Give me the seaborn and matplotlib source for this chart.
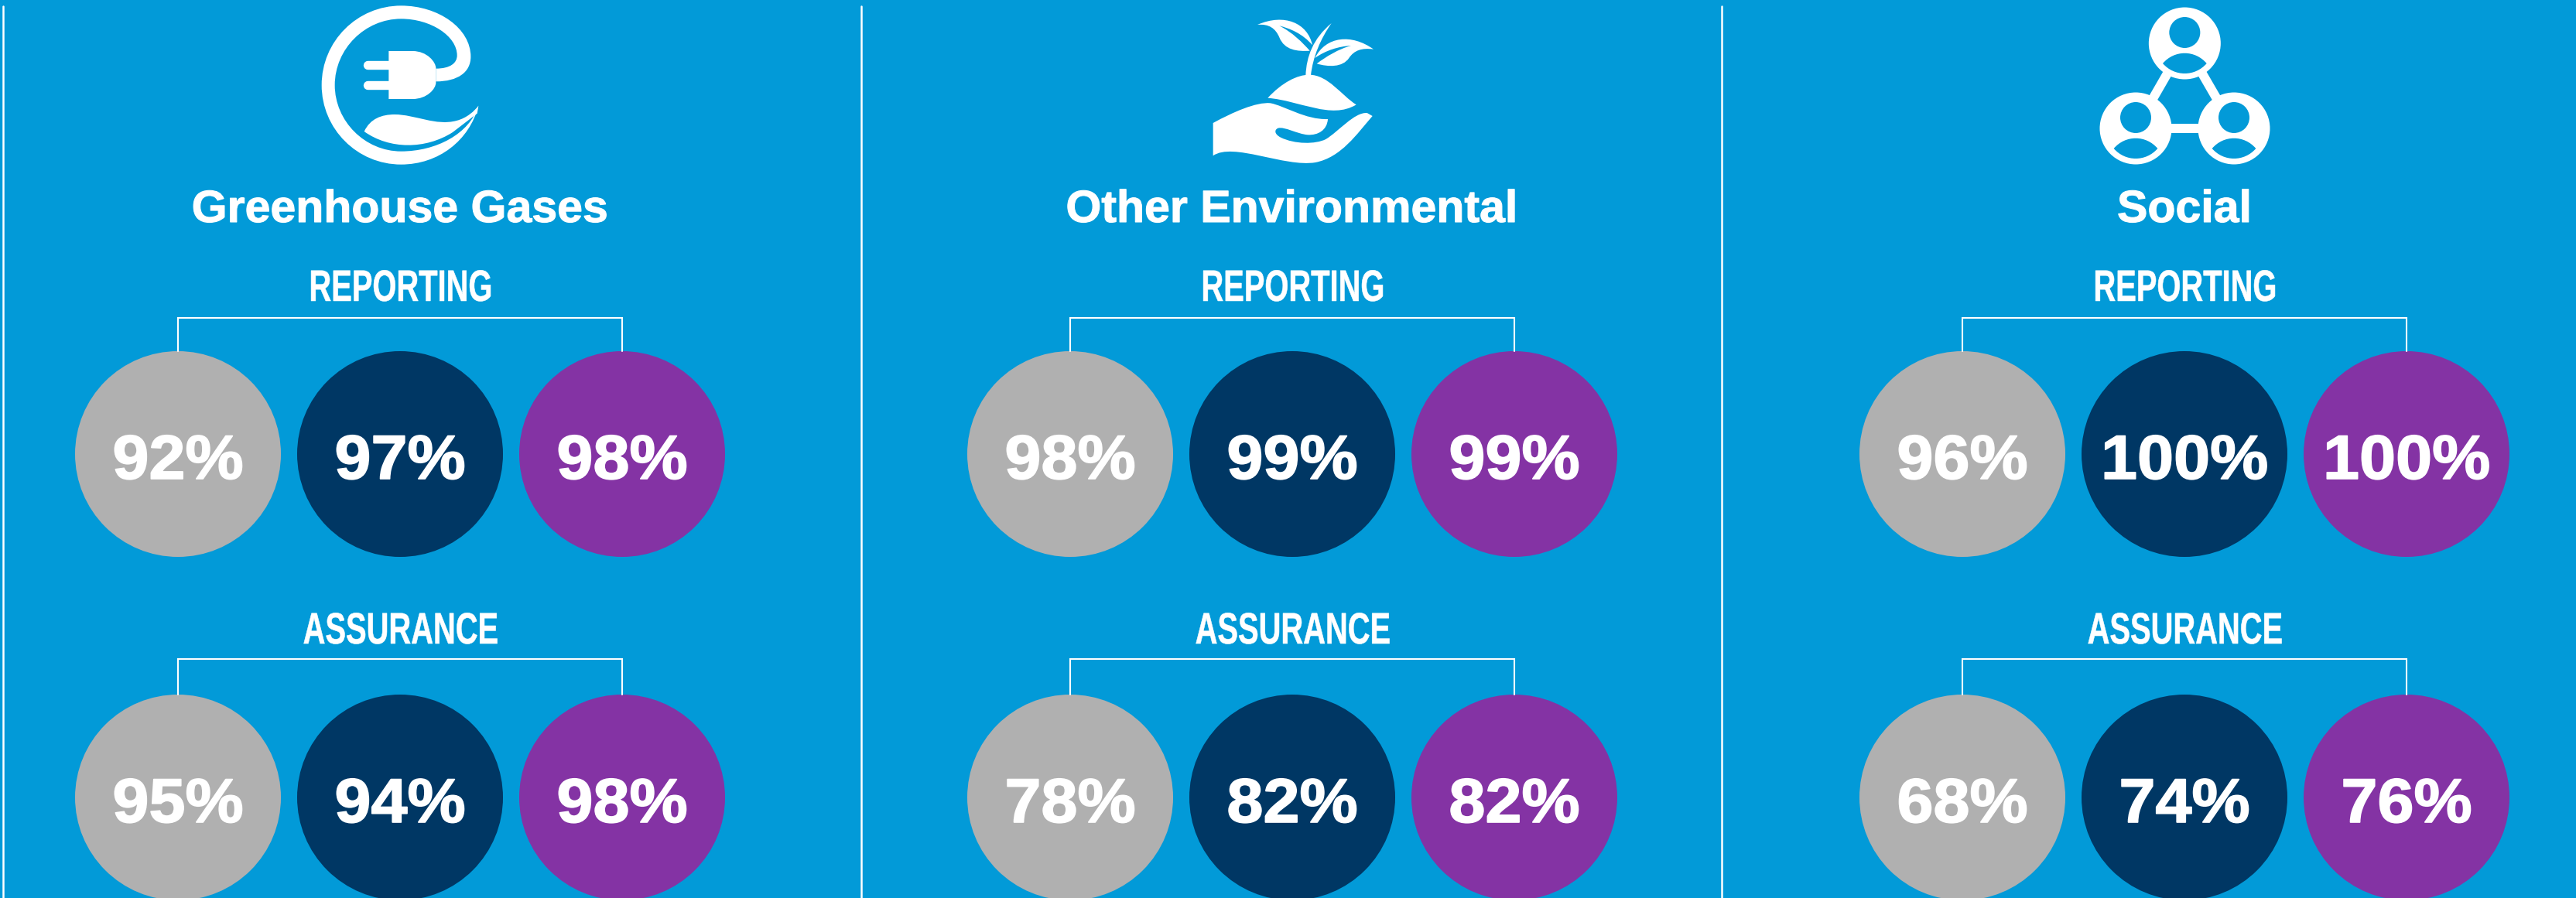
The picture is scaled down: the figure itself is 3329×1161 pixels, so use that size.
import numpy as np
import pandas as pd
import matplotlib
matplotlib.use("Agg")
import matplotlib.pyplot as plt
import matplotlib.patheffects as pe
import seaborn as sns
from matplotlib.patches import PathPatch, Circle
from matplotlib.path import Path
from matplotlib.transforms import Affine2D

# -------------------------------
# Data
# -------------------------------
panels = ["Greenhouse Gases", "Other Environmental", "Social"]
rows = ["REPORTING", "ASSURANCE"]
groups = ["Group A", "Group B", "Group C"]

reporting_ghg = [92, 97, 98]
reporting_env = [98, 99, 99]
reporting_soc = [96, 100, 100]
assurance_ghg = [95, 94, 98]
assurance_env = [78, 82, 82]
assurance_soc = [68, 74, 76]

BG = "#029AD8"
group_colors = ["#B0B0B0", "#003764", "#8433A4"]

# layout, in pixels of the picture
W, H = 3329, 1161
panel_x = [517, 1670, 2823]
dot_dx = [-287, 0, 287]
row_y = [587, 1031]
dot_d = 266
sep_x = [4, 1113, 2225]

table = {
    "REPORTING": [reporting_ghg, reporting_env, reporting_soc],
    "ASSURANCE": [assurance_ghg, assurance_env, assurance_soc],
}
records = []
for r, row in enumerate(rows):
    for p, panel in enumerate(panels):
        for g, group in enumerate(groups):
            records.append({
                "panel": panel, "row": row, "group": group,
                "value": table[row][p][g],
                "x": panel_x[p] + dot_dx[g],
                "y": row_y[r],
            })
df = pd.DataFrame(records)

sns.set_theme(style="white")
plt.rcParams["font.family"] = ["Liberation Sans", "DejaVu Sans"]

fig = plt.figure(figsize=(W / 100, H / 100), dpi=100, facecolor=BG)
ax = fig.add_axes([0, 0, 1, 1])
ax.set_facecolor(BG)

sns.scatterplot(
    data=df, x="x", y="y", hue="group", palette=group_colors,
    s=(dot_d * 0.72) ** 2, linewidth=0, legend=False, ax=ax, clip_on=True,
)
ax.set_xlim(0, W)
ax.set_ylim(H, 0)
ax.axis("off")


class Squeeze(pe.AbstractPathEffect):
    # narrows or widens a text about its centre, the fonts here have no condensed cut
    def __init__(self, x, fx, stroke=0):
        super().__init__()
        self.cx = ax.transData.transform((x, 0))[0]
        self.fx = fx
        self.stroke = stroke

    def draw_path(self, renderer, gc, tpath, affine, rgbFace=None):
        t = affine + Affine2D().translate(-self.cx, 0).scale(self.fx, 1).translate(self.cx, 0)
        gc0 = renderer.new_gc()
        gc0.copy_properties(gc)
        gc0.set_linewidth(self.stroke)
        gc0.set_foreground("white")
        renderer.draw_path(gc0, tpath, t, rgbFace)
        gc0.restore()


for _, d in df.iterrows():
    ax.text(d["x"], d["y"] + 32, f"{d['value']}%", color="white", fontsize=58,
            fontweight="bold", ha="center", va="baseline",
            path_effects=[Squeeze(d["x"], 1.05, stroke=1.2)])

# separators
for x in sep_x:
    ax.plot([x, x], [8, H], color="white", lw=1.8)

# brackets and row labels
label_y = [389, 832]
top_y = [411, 852]
for r, row in enumerate(rows):
    for px in panel_x:
        ax.plot([px - 287, px - 287, px + 287, px + 287],
                [row_y[r] - 133, top_y[r], top_y[r], row_y[r] - 133],
                color="white", lw=1.5, solid_joinstyle="miter")
        ax.text(px + 1, label_y[r], row, color="white", fontsize=41, fontweight="bold",
                ha="center", va="baseline",
                path_effects=[Squeeze(px + 1, 0.70, stroke=0.4)])

# panel headings
for px, panel in zip(panel_x, panels):
    ax.text(px, 287, panel, color="white", fontsize=42, fontweight="bold",
            ha="center", va="baseline",
            path_effects=[Squeeze(px, 1.012, stroke=0.8)])


def shape(points, color="white", **kw):
    # M/L/C path given as a small list of commands
    verts, codes = [], []
    for cmd in points:
        if cmd[0] == "M":
            verts.append(cmd[1]); codes.append(Path.MOVETO)
        elif cmd[0] == "L":
            verts.append(cmd[1]); codes.append(Path.LINETO)
        elif cmd[0] == "C":
            verts.extend(cmd[1:]); codes.extend([Path.CURVE4] * 3)
        elif cmd[0] == "Z":
            verts.append((0, 0)); codes.append(Path.CLOSEPOLY)
    ax.add_patch(PathPatch(Path(verts, codes), facecolor=color, edgecolor="none", **kw))


def plug_icon():
    # zoom offsets: x = 350 + u/3, y = v/3
    P = lambda u, v: (350 + u / 3, v / 3)
    # big ring with the cord running into the plug
    shape([
        ("M", P(805, 410)),
        ("C", P(770, 545), P(650, 638), P(505, 638)),
        ("C", P(335, 638), P(197, 500), P(197, 330)),
        ("C", P(197, 160), P(335, 22), P(505, 22)),
        ("C", P(650, 22), P(775, 110), P(775, 220)),
        ("C", P(775, 280), P(725, 316), P(640, 316)),
        ("L", P(640, 266)),
        ("C", P(695, 266), P(722, 245), P(722, 215)),
        ("C", P(722, 140), P(620, 73), P(505, 73)),
        ("C", P(365, 73), P(248, 190), P(248, 330)),
        ("C", P(248, 470), P(365, 587), P(505, 587)),
        ("C", P(640, 587), P(770, 520), P(805, 410)),
        ("Z",),
    ])
    # plug body
    shape([
        ("M", P(457, 198)),
        ("L", P(550, 198)),
        ("C", P(605, 198), P(640, 240), P(640, 265)),
        ("L", P(640, 320)),
        ("C", P(640, 345), P(605, 384), P(550, 384)),
        ("L", P(457, 384)),
        ("Z",),
    ])
    for v in [252, 330]:
        ax.plot(*zip(P(375, v), P(460, v)), color="white", lw=8.2,
                solid_capstyle="round")
    # leaf
    shape([
        ("M", P(362, 510)),
        ("C", P(385, 460), P(430, 444), P(480, 444)),
        ("C", P(560, 444), P(640, 490), P(720, 468)),
        ("C", P(760, 458), P(790, 430), P(805, 410)),
        ("L", P(800, 440)),
        ("L", P(705, 513)),
        ("C", P(600, 580), P(460, 580), P(362, 510)),
        ("Z",),
    ])


def hand_icon():
    P = lambda u, v: (1500 + u / 3, v / 3)
    # hand
    shape([
        ("M", P(203, 477)),
        ("C", P(280, 435), P(370, 395), P(425, 400)),
        ("C", P(480, 410), P(560, 465), P(648, 462)),
        ("C", P(645, 505), P(610, 525), P(570, 523)),
        ("C", P(530, 520), P(480, 490), P(455, 497)),
        ("C", P(440, 503), P(440, 520), P(465, 533)),
        ("C", P(520, 560), P(600, 560), P(640, 540)),
        ("C", P(690, 510), P(750, 435), P(800, 438)),
        ("L", P(821, 450)),
        ("C", P(760, 520), P(700, 610), P(600, 630)),
        ("C", P(480, 650), P(280, 550), P(203, 604)),
        ("Z",),
    ])
    # soil
    shape([
        ("M", P(415, 380)),
        ("C", P(470, 320), P(530, 290), P(575, 290)),
        ("C", P(650, 290), P(700, 370), P(758, 406)),
        ("C", P(660, 465), P(540, 390), P(415, 380)),
        ("Z",),
    ])
    # stem
    shape([
        ("M", P(562, 292)),
        ("C", P(565, 220), P(590, 150), P(662, 90)),
        ("C", P(620, 150), P(590, 220), P(582, 292)),
        ("Z",),
    ])
    # left leaf, with its vein cut out
    shape([
        ("M", P(375, 96)),
        ("C", P(480, 50), P(570, 90), P(588, 175)),
        ("C", P(550, 130), P(500, 110), P(460, 100)),
        ("C", P(510, 125), P(550, 165), P(578, 197)),
        ("C", P(530, 200), P(480, 195), P(460, 145)),
        ("C", P(445, 110), P(420, 92), P(375, 96)),
        ("Z",),
    ])
    # right leaf
    shape([
        ("M", P(825, 191)),
        ("C", P(740, 130), P(640, 140), P(598, 225)),
        ("C", P(640, 195), P(690, 180), P(738, 177)),
        ("C", P(690, 190), P(640, 220), P(605, 247)),
        ("C", P(650, 260), P(705, 262), P(730, 225)),
        ("C", P(750, 195), P(780, 185), P(825, 191)),
        ("Z",),
    ])


def people_icon():
    P = lambda u, v: (2650 + u / 3, v / 3)
    heads = [(520, 168), (330, 498), (711, 498)]
    # links between the three discs
    for a, b in [(0, 1), (0, 2), (1, 2)]:
        ax.plot(*zip(P(*heads[a]), P(*heads[b])), color="white", lw=8.6, zorder=2)
    for u, v in heads:
        cx, cy = P(u, v)
        ax.add_patch(Circle((cx, cy), 46.5, facecolor="white", edgecolor="none", zorder=3))
        hx, hy = P(u, v - 42)
        ax.add_patch(Circle((hx, hy), 20, facecolor=BG, edgecolor="none", zorder=4))
        shape([
            ("M", P(u - 85, v + 78)),
            ("C", P(u - 40, v + 25), P(u + 40, v + 25), P(u + 85, v + 78)),
            ("C", P(u + 40, v + 130), P(u - 40, v + 130), P(u - 85, v + 78)),
            ("Z",),
        ], color=BG, zorder=4)


plug_icon()
hand_icon()
people_icon()

fig.savefig("out.png", dpi=100, facecolor=BG)
